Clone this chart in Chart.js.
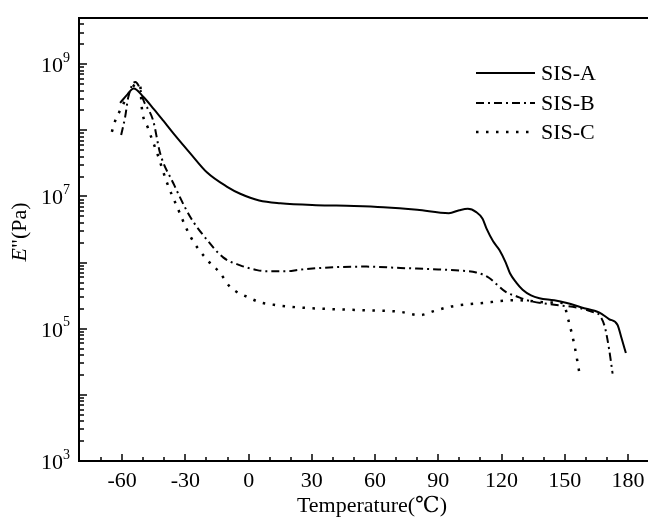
<!DOCTYPE html>
<html>
<head>
<meta charset="utf-8">
<script src="https://cdn.jsdelivr.net/npm/chart.js@4.4.1/dist/chart.umd.min.js"></script>
<style>
  html, body { margin: 0; padding: 0; background: #fff; }
  #wrap { width: 648px; height: 517px; }
</style>
</head>
<body>
<div id="wrap"><canvas id="chart" width="648" height="517"></canvas></div>
<script>
// E'' vs temperature
const tempA = [-61, -57.5, -54.6, -49.9, -45, -40.5, -35.8, -27.7, -19.7, -10.2, -4, 5, 15, 32, 50, 64, 80, 95, 100, 104, 108, 111, 113, 116, 119, 122, 124, 127, 130, 134, 138, 145, 151, 158, 166.5, 171, 175, 177, 179];
const sisA  = [2.6e8, 3.5e8, 4.3e8, 3.2e8, 2.1e8, 1.4e8, 9.1e7, 4.5e7, 2.3e7, 1.4e7, 1.1e7, 8.7e6, 7.9e6, 7.4e6, 7.2e6, 6.9e6, 6.3e6, 5.6e6, 6.2e6, 6.5e6, 5.8e6, 4.6e6, 3.2e6, 2.1e6, 1.55e6, 1.0e6, 6.9e5, 5.0e5, 3.9e5, 3.2e5, 2.9e5, 2.7e5, 2.45e5, 2.1e5, 1.75e5, 1.4e5, 1.15e5, 7.1e4, 4.3e4];

const tempB = [-60.5, -58.6, -57.1, -53.8, -51.5, -50, -45.3, -42, -35.8, -27.7, -19.7, -12.1, -4, 4, 9, 18, 24, 40, 56, 72, 90, 100, 108, 114, 118, 122, 127, 132, 143, 157, 163, 166.5, 169, 171, 172.7];
const sisB  = [8.5e7, 1.6e8, 3.2e8, 5.4e8, 4.2e8, 2.9e8, 1.4e8, 4.5e7, 1.6e7, 4.9e6, 2.2e6, 1.2e6, 9.1e5, 7.7e5, 7.4e5, 7.4e5, 7.8e5, 8.5e5, 8.7e5, 8.3e5, 7.9e5, 7.6e5, 7.1e5, 5.9e5, 4.6e5, 3.6e5, 3.1e5, 2.7e5, 2.35e5, 2.05e5, 1.8e5, 1.6e5, 1.07e5, 5.0e4, 2.1e4];

const tempC = [-64.9, -63.3, -61, -56, -53.5, -51.5, -50.7, -47.7, -43.4, -38.7, -33.9, -27.7, -19.7, -13.6, -8.8, 0.7, 5.5, 12, 20, 29, 45, 56, 72, 81, 88, 95.5, 111, 127, 143, 149, 152, 154.7, 157];
const sisC  = [9.5e7, 1.4e8, 2.0e8, 4.0e8, 5.0e8, 4.8e8, 2.2e8, 1.07e8, 4.5e7, 1.6e7, 6.9e6, 2.5e6, 1.1e6, 7.0e5, 4.3e5, 2.9e5, 2.5e5, 2.3e5, 2.15e5, 2.05e5, 1.95e5, 1.9e5, 1.8e5, 1.6e5, 1.85e5, 2.15e5, 2.45e5, 2.7e5, 2.5e5, 2.45e5, 1.25e5, 5.4e4, 2.1e4];

const seriesNames = ['SIS-A', 'SIS-B', 'SIS-C'];
const xTickLabels = [-60, -30, 0, 30, 60, 90, 120, 150, 180];
const yTickExponents = [3, 5, 7, 9];

const SERIF = '"Liberation Serif", "DejaVu Serif", serif';

function pts(xs, ys) {
    return xs.map((x, i) => ({ x: x, y: ys[i] }));
}

const axesPlugin = {
    id: 'axesPlugin',
    afterDraw(chart) {
        const ctx = chart.ctx;
        const a = chart.chartArea;
        const xs = chart.scales.x;
        const ys = chart.scales.y;
        ctx.save();
        ctx.strokeStyle = '#000';
        ctx.fillStyle = '#000';
        ctx.setLineDash([]);
        ctx.lineWidth = 2;

        // frame: left, bottom, top
        ctx.beginPath();
        ctx.moveTo(a.right, a.top);
        ctx.lineTo(a.left, a.top);
        ctx.lineTo(a.left, a.bottom);
        ctx.lineTo(a.right, a.bottom);
        ctx.stroke();

        // x ticks (inward)
        ctx.lineWidth = 1.5;
        for (let v = -70; v <= 180; v += 10) {
            const px = Math.round(xs.getPixelForValue(v));
            const len = (v % 30 === 0) ? 7 : 4;
            ctx.beginPath();
            ctx.moveTo(px, a.bottom);
            ctx.lineTo(px, a.bottom - len);
            ctx.stroke();
        }

        // y ticks (inward)
        for (let n = 3; n <= 9; n++) {
            for (let m = 1; m <= 9; m++) {
                const val = m * Math.pow(10, n);
                if (val > ys.max) break;
                const py = Math.round(ys.getPixelForValue(val));
                const len = (m === 1) ? 8 : 5;
                ctx.beginPath();
                ctx.moveTo(a.left, py);
                ctx.lineTo(a.left + len, py);
                ctx.stroke();
            }
        }

        // x labels
        ctx.font = '22px ' + SERIF;
        ctx.textAlign = 'center';
        ctx.textBaseline = 'middle';
        xTickLabels.forEach(v => {
            ctx.fillText(String(v), xs.getPixelForValue(v), a.bottom + 20);
        });

        // y labels 10^n
        yTickExponents.forEach(n => {
            const py = ys.getPixelForValue(Math.pow(10, n));
            ctx.font = '22px ' + SERIF;
            ctx.textAlign = 'right';
            ctx.textBaseline = 'middle';
            ctx.fillText('10', a.left - 16, py + 2);
            ctx.font = '14px ' + SERIF;
            ctx.textAlign = 'left';
            ctx.fillText(String(n), a.left - 16, py - 6);
        });

        // axis titles
        ctx.font = '22px ' + SERIF;
        ctx.textAlign = 'center';
        ctx.textBaseline = 'middle';
        ctx.fillText('Temperature(\u2103)', 372, 506);

        ctx.translate(20, 232);
        ctx.rotate(-Math.PI / 2);
        ctx.textAlign = 'left';
        const e = 'E';
        const rest = '"(Pa)';
        ctx.font = 'italic 22px ' + SERIF;
        const we = ctx.measureText(e).width;
        ctx.font = '22px ' + SERIF;
        const wr = ctx.measureText(rest).width;
        const x0 = -(we + wr) / 2;
        ctx.font = 'italic 22px ' + SERIF;
        ctx.fillText(e, x0, 0);
        ctx.font = '22px ' + SERIF;
        ctx.fillText(rest, x0 + we, 0);
        ctx.restore();

        // legend
        ctx.save();
        const rows = [73, 103, 132];
        chart.data.datasets.forEach((ds, i) => {
            ctx.strokeStyle = '#000';
            ctx.lineWidth = ds.borderWidth;
            ctx.lineCap = ds.borderCapStyle || 'butt';
            ctx.setLineDash(ds.borderDash || []);
            ctx.beginPath();
            ctx.moveTo(476, rows[i]);
            ctx.lineTo(535, rows[i]);
            ctx.stroke();
            ctx.setLineDash([]);
            ctx.fillStyle = '#000';
            ctx.font = '22px ' + SERIF;
            ctx.textAlign = 'left';
            ctx.textBaseline = 'middle';
            ctx.fillText(ds.label, 541, rows[i] + 1);
        });
        ctx.restore();
    }
};

new Chart(document.getElementById('chart').getContext('2d'), {
    type: 'line',
    data: {
        datasets: [
            {
                label: seriesNames[0],
                data: pts(tempA, sisA),
                borderColor: '#000',
                borderWidth: 2,
                borderDash: [],
                pointRadius: 0,
                cubicInterpolationMode: 'monotone'
            },
            {
                label: seriesNames[1],
                data: pts(tempB, sisB),
                borderColor: '#000',
                borderWidth: 2,
                borderDash: [8, 4, 2, 4],
                pointRadius: 0,
                cubicInterpolationMode: 'monotone'
            },
            {
                label: seriesNames[2],
                data: pts(tempC, sisC),
                borderColor: '#000',
                borderWidth: 2.5,
                borderDash: [2.5, 7.5],
                pointRadius: 0,
                cubicInterpolationMode: 'monotone'
            }
        ]
    },
    options: {
        responsive: false,
        animation: false,
        devicePixelRatio: 1,
        layout: { padding: { left: 79, right: 0, top: 18, bottom: 56 } },
        plugins: { legend: { display: false }, tooltip: { enabled: false } },
        scales: {
            x: { type: 'linear', min: -80.5, max: 189.5, display: false },
            y: { type: 'logarithmic', min: 1e3, max: 5e9, display: false }
        }
    },
    plugins: [axesPlugin]
});
</script>
</body>
</html>
